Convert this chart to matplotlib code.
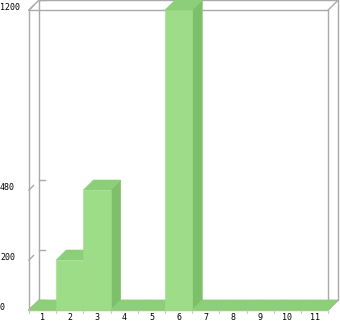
import matplotlib
matplotlib.use("Agg")
import matplotlib.pyplot as plt
from matplotlib.patches import Polygon

# Chart data
categories = ["1", "2", "3", "4", "5", "6", "7", "8", "9", "10", "11"]
values = [0, 200, 480, 0, 0, 1200, 0, 0, 0, 0, 0]
y_ticks = [0, 200, 480, 1200]
y_max = 1200

# Fake 3D depth (in data units)
dx, dy = 0.37, 40

front_col = "#9edd88"
top_col = "#8ccf78"
side_col = "#7ebf6a"
frame_col = "#aaaaaa"

fig = plt.figure(figsize=(3.4, 3.21), dpi=100)
ax = fig.add_axes([0, 0, 1, 1])
ax.set_xlim(-29 / 27.2, (340 - 29) / 27.2)
ax.set_ylim(-44, 1240)
ax.axis("off")

n = len(categories)

# back wall
ax.plot([dx, n + dx, n + dx, dx, dx],
        [dy, dy, y_max + dy, y_max + dy, dy], color=frame_col, lw=1, zorder=1)
# front frame
ax.plot([0, 0, n, n, 0], [0, y_max, y_max, 0, 0], color=frame_col, lw=1, zorder=1)
# corner connectors
for cx, cy in [(0, 0), (0, y_max), (n, y_max), (n, 0)]:
    ax.plot([cx, cx + dx], [cy, cy + dy], color=frame_col, lw=1, zorder=1)

# y ticks
for t in y_ticks:
    ax.plot([0, dx * 0.45], [t, t + dy * 0.45], color=frame_col, lw=1, zorder=1)
    ax.plot([dx, dx + 0.2], [t + dy, t + dy], color=frame_col, lw=1, zorder=1)
    ax.text(-29 / 27.2, t + 12, str(t), ha="left", va="center",
            fontsize=6, family="DejaVu Sans Mono", color="black")

# x ticks
for i in range(n + 1):
    ax.plot([i, i], [0, -10], color="#cccccc", lw=0.8, zorder=1)

# bars
for i, v in enumerate(values):
    x0, x1 = i, i + 1
    front = Polygon([(x0, 0), (x1, 0), (x1, v), (x0, v)], closed=True,
                    fc=front_col, ec=front_col, lw=0.4, zorder=3)
    top = Polygon([(x0, v), (x1, v), (x1 + dx, v + dy), (x0 + dx, v + dy)],
                  closed=True, fc=top_col, ec=top_col, lw=0.4, zorder=3)
    side = Polygon([(x1, 0), (x1 + dx, dy), (x1 + dx, v + dy), (x1, v)],
                   closed=True, fc=side_col, ec=side_col, lw=0.4, zorder=3)
    if v > 0:
        ax.add_patch(side)
    ax.add_patch(top)
    ax.add_patch(front)

for i, c in enumerate(categories):
    ax.text(i + 0.5, -28, c, ha="center", va="center",
            fontsize=6, family="DejaVu Sans Mono", color="black")

fig.savefig("out.png", dpi=100, facecolor="white")
